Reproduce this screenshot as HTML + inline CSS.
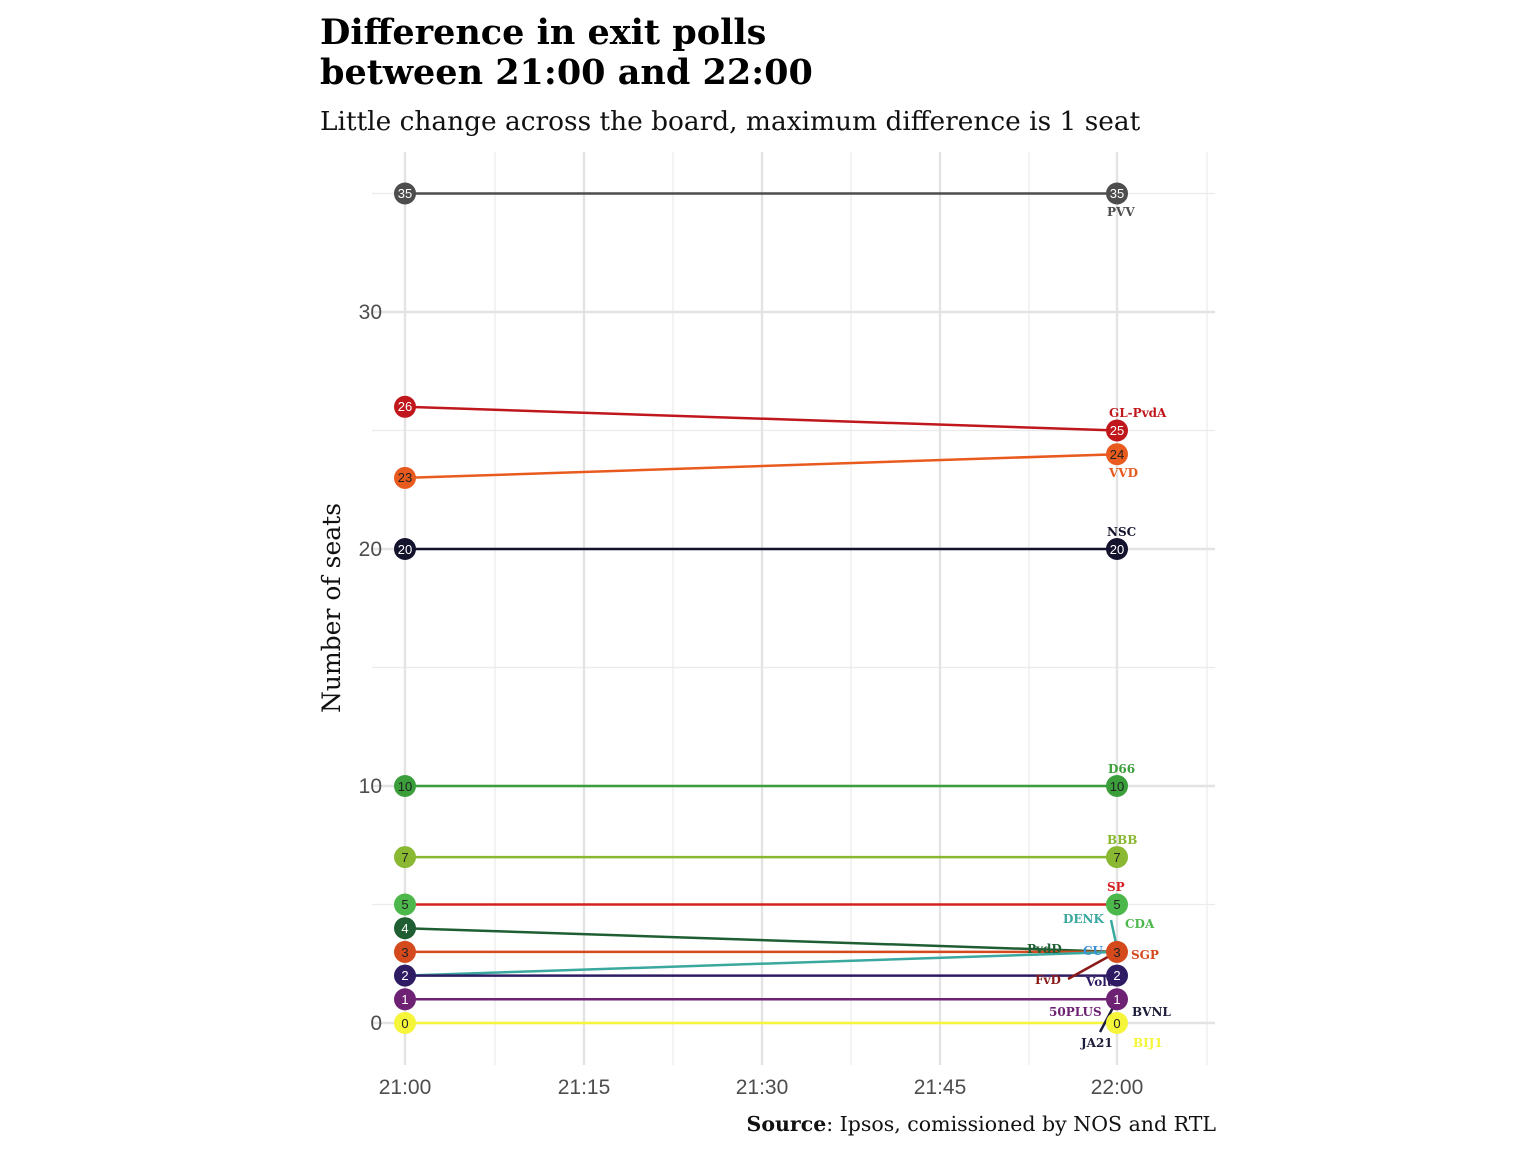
<!DOCTYPE html>
<html><head><meta charset="utf-8"><style>body{margin:0;background:#fff}svg{display:block}</style></head><body>
<svg width="1536" height="1152" xmlns="http://www.w3.org/2000/svg">
<text x="320" y="44" font-family="DejaVu Serif, serif" font-weight="bold" font-size="35" fill="#000">Difference in exit polls</text>
<text x="320" y="84" font-family="DejaVu Serif, serif" font-weight="bold" font-size="35" fill="#000">between 21:00 and 22:00</text>
<text x="320" y="130" font-family="DejaVu Serif, serif" font-size="26.4" fill="#111">Little change across the board, maximum difference is 1 seat</text>
<g stroke="#ebebeb" stroke-width="1.2">
<line x1="495" y1="152" x2="495" y2="1065"/><line x1="673" y1="152" x2="673" y2="1065"/><line x1="851" y1="152" x2="851" y2="1065"/><line x1="1029" y1="152" x2="1029" y2="1065"/><line x1="1207" y1="152" x2="1207" y2="1065"/>
<line x1="372" y1="904.5" x2="1215" y2="904.5"/><line x1="372" y1="667.5" x2="1215" y2="667.5"/><line x1="372" y1="430.5" x2="1215" y2="430.5"/><line x1="372" y1="193.5" x2="1215" y2="193.5"/>
</g>
<g stroke="#e3e3e3" stroke-width="2.4">
<line x1="405" y1="152" x2="405" y2="1065"/><line x1="584" y1="152" x2="584" y2="1065"/><line x1="762" y1="152" x2="762" y2="1065"/><line x1="940" y1="152" x2="940" y2="1065"/><line x1="1117" y1="152" x2="1117" y2="1065"/>
<line x1="372" y1="1023" x2="1215" y2="1023"/><line x1="372" y1="786" x2="1215" y2="786"/><line x1="372" y1="549" x2="1215" y2="549"/><line x1="372" y1="312" x2="1215" y2="312"/>
</g>
<g font-family="Liberation Sans, sans-serif" font-size="21" fill="#4d4d4d">
<text x="382" y="1030" text-anchor="end">0</text><text x="382" y="793" text-anchor="end">10</text><text x="382" y="556" text-anchor="end">20</text><text x="382" y="319" text-anchor="end">30</text>
<text x="405" y="1094" text-anchor="middle">21:00</text><text x="584" y="1094" text-anchor="middle">21:15</text><text x="762" y="1094" text-anchor="middle">21:30</text><text x="940" y="1094" text-anchor="middle">21:45</text><text x="1117" y="1094" text-anchor="middle">22:00</text>
</g>
<text transform="translate(340,608) rotate(-90)" text-anchor="middle" font-family="DejaVu Serif, serif" font-size="25" fill="#111">Number of seats</text>
<g stroke-width="2.5" fill="none">
<line x1="405" y1="193.5" x2="1117" y2="193.5" stroke="#4d4d4d"/>
<line x1="405" y1="406.8" x2="1117" y2="430.5" stroke="#c0171d"/>
<line x1="405" y1="477.9" x2="1117" y2="454.2" stroke="#e85a1e"/>
<line x1="405" y1="549" x2="1117" y2="549" stroke="#14132e"/>
<line x1="405" y1="786" x2="1117" y2="786" stroke="#3a9e3a"/>
<line x1="405" y1="857.1" x2="1117" y2="857.1" stroke="#8ab833"/>
<line x1="405" y1="904.5" x2="1117" y2="904.5" stroke="#d42020"/>
<line x1="405" y1="928.2" x2="1117" y2="951.9" stroke="#1f5e32"/>
<line x1="405" y1="951.9" x2="1117" y2="951.9" stroke="#d44a1d"/>
<line x1="405" y1="975.6" x2="1117" y2="951.9" stroke="#3aa89e"/>
<line x1="405" y1="975.6" x2="1117" y2="975.6" stroke="#2e1b63"/>
<line x1="405" y1="999.3" x2="1117" y2="999.3" stroke="#6e2273"/>
<line x1="405" y1="1023" x2="1117" y2="1023" stroke="#f5f53a"/>
<line x1="1068" y1="979" x2="1117" y2="951.9" stroke="#8b1a1a"/>
<line x1="1111" y1="920" x2="1117" y2="948" stroke="#3aa89e"/>
<line x1="1100" y1="1032" x2="1116" y2="1002" stroke="#1b1b3a"/>
</g>
<g font-family="Liberation Sans, sans-serif" font-size="13" text-anchor="middle">
<circle cx="405" cy="193.5" r="11" fill="#4d4d4d"/><text x="405" y="198" fill="#fff">35</text>
<circle cx="1117" cy="193.5" r="11" fill="#4d4d4d"/><text x="1117" y="198" fill="#fff">35</text>
<circle cx="405" cy="406.8" r="11" fill="#c0171d"/><text x="405" y="411" fill="#fff">26</text>
<circle cx="1117" cy="430.5" r="11" fill="#c0171d"/><text x="1117" y="435" fill="#fff">25</text>
<circle cx="405" cy="477.9" r="11" fill="#e85a1e"/><text x="405" y="482" fill="#222">23</text>
<circle cx="1117" cy="454.2" r="11" fill="#e85a1e"/><text x="1117" y="459" fill="#222">24</text>
<circle cx="405" cy="549" r="11" fill="#14132e"/><text x="405" y="554" fill="#fff">20</text>
<circle cx="1117" cy="549" r="11" fill="#14132e"/><text x="1117" y="554" fill="#fff">20</text>
<circle cx="405" cy="786" r="11" fill="#3a9e3a"/><text x="405" y="791" fill="#222">10</text>
<circle cx="1117" cy="786" r="11" fill="#3a9e3a"/><text x="1117" y="791" fill="#222">10</text>
<circle cx="405" cy="857.1" r="11" fill="#8ab833"/><text x="405" y="862" fill="#222">7</text>
<circle cx="1117" cy="857.1" r="11" fill="#8ab833"/><text x="1117" y="862" fill="#222">7</text>
<circle cx="405" cy="904.5" r="11" fill="#4cb84c"/><text x="405" y="909" fill="#222">5</text>
<circle cx="1117" cy="904.5" r="11" fill="#4cb84c"/><text x="1117" y="909" fill="#222">5</text>
<circle cx="405" cy="928.2" r="11" fill="#1f5e32"/><text x="405" y="933" fill="#fff">4</text>
<circle cx="405" cy="951.9" r="11" fill="#d44a1d"/><text x="405" y="957" fill="#222">3</text>
<circle cx="1117" cy="951.9" r="11" fill="#d44a1d"/><text x="1117" y="957" fill="#222">3</text>
<circle cx="405" cy="975.6" r="11" fill="#2e1b63"/><text x="405" y="980" fill="#fff">2</text>
<circle cx="1117" cy="975.6" r="11" fill="#2e1b63"/><text x="1117" y="980" fill="#fff">2</text>
<circle cx="405" cy="999.3" r="11" fill="#6e2273"/><text x="405" y="1004" fill="#fff">1</text>
<circle cx="1117" cy="999.3" r="11" fill="#6e2273"/><text x="1117" y="1004" fill="#fff">1</text>
<circle cx="405" cy="1023" r="11" fill="#f5f53a"/><text x="405" y="1028" fill="#222">0</text>
<circle cx="1117" cy="1023" r="11" fill="#f5f53a"/><text x="1117" y="1028" fill="#222">0</text>
</g>
<g font-family="DejaVu Serif, serif" font-weight="bold" font-size="12">
<text x="1107" y="216" fill="#4d4d4d">PVV</text>
<text x="1109" y="417" fill="#c0171d">GL-PvdA</text>
<text x="1109" y="477" fill="#e85a1e">VVD</text>
<text x="1107" y="536" fill="#14132e">NSC</text>
<text x="1108" y="773" fill="#3a9e3a">D66</text>
<text x="1107" y="844" fill="#8ab833">BBB</text>
<text x="1107" y="891" fill="#d42020">SP</text>
<text x="1063" y="923" fill="#3aa89e">DENK</text>
<text x="1125" y="928" fill="#4cb84c">CDA</text>
<text x="1027" y="953" fill="#1f5e32">PvdD</text>
<text x="1083" y="955" fill="#3a8fd9">CU</text>
<text x="1131" y="959" fill="#d44a1d">SGP</text>
<text x="1035" y="984" fill="#8b1a1a">FvD</text>
<text x="1086" y="986" fill="#2e1b63">Volt</text>
<text x="1049" y="1016" fill="#6e2273">50PLUS</text>
<text x="1132" y="1016" fill="#1b1b3a">BVNL</text>
<text x="1081" y="1047" fill="#1b1b3a">JA21</text>
<text x="1133" y="1047" fill="#f5f53a">BIJ1</text>
</g>
<text x="1216" y="1131" text-anchor="end" font-family="DejaVu Serif, serif" font-size="20.5" fill="#111"><tspan font-weight="bold">Source</tspan>: Ipsos, comissioned by NOS and RTL</text>
</svg>
</body></html>
